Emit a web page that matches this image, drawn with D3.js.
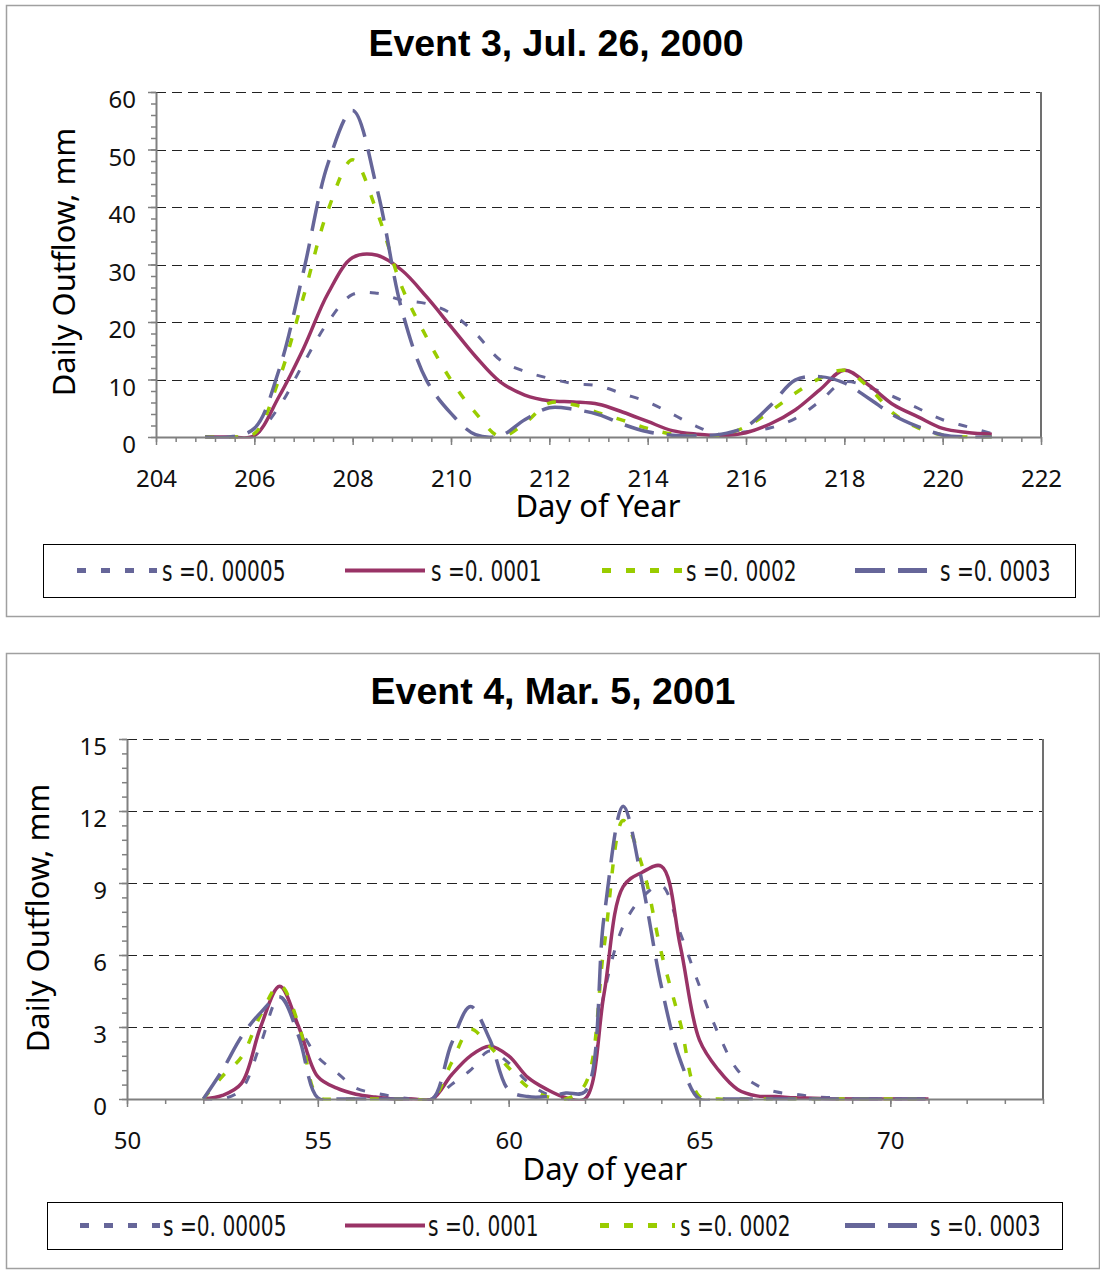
<!DOCTYPE html>
<html>
<head>
<meta charset="utf-8">
<script src="https://cdn.jsdelivr.net/npm/d3@7"></script>
<style>
body { margin: 0; background: #fff; }
svg { display: block; }
</style>
</head>
<body>
<div id="chart"></div>
<script>
// series labels and look
const names = ["s =0. 00005", "s =0. 0001", "s =0. 0002", "s =0. 0003"];

// Event 3 (Jul. 26, 2000)
const days3 = [205, 205.5, 206, 206.5, 207, 207.5, 208, 208.5, 209, 209.5, 210, 210.5, 211, 211.5, 212, 212.5,
  213, 213.5, 214, 214.5, 215, 215.5, 216, 216.5, 217, 217.5, 218, 218.5, 219, 219.5, 220, 220.5, 221];
const e3s00005 = [0, 0, 0.35, 5.2, 12.8, 20, 24.8, 25, 23.8, 23.2, 21.5, 18, 13.4, 11.4, 10.2, 9.3,
  8.9, 7.5, 6.1, 4, 1.8, 0.4, 0.9, 1.6, 3.2, 6.2, 9.6, 8.6, 7, 5, 3, 1.8, 0.6];
const e3s0001 = [0, 0, 0.2, 7, 15.4, 25, 31.2, 31.6, 29, 24.4, 19.2, 14, 9.6, 7.3, 6.3, 6.1,
  5.7, 4.3, 2.7, 1.1, 0.5, 0.25, 0.75, 2.3, 4.7, 8.2, 11.6, 9, 5.6, 3.5, 1.5, 0.8, 0.5];
const e3s0002 = [0, 0, 0.6, 10, 24.4, 39.5, 48.2, 39, 26.1, 17.4, 9.9, 4.2, 0.1, 2.4, 5.9, 5.6,
  4.2, 2.9, 1.5, 0.5, 0.2, 0.3, 1.8, 4.5, 7.6, 10.2, 11.6, 8.6, 4.1, 1.6, 0.35, 0, 0];
const e3s0003 = [0, 0, 1.5, 11.6, 28.8, 47.6, 56.8, 43, 22.1, 9.9, 4.1, 0.4, 0.2, 3, 5.1, 4.8,
  3.9, 2.2, 0.9, 0.3, 0.2, 0.5, 1.8, 5.5, 9.9, 10.5, 9.4, 6.7, 3.8, 1.8, 0.35, 0, 0];
const xTicks3 = [204, 206, 208, 210, 212, 214, 216, 218, 220, 222];
const yTicks3 = [0, 10, 20, 30, 40, 50, 60];

// Event 4 (Mar. 5, 2001)
const days4 = [52, 52.5, 53, 53.5, 54, 54.5, 55, 55.5, 56, 56.5, 57, 57.5, 58, 58.5, 59, 59.5, 60, 60.5, 61, 61.5,
  62, 62.5, 63, 63.5, 64, 64.5, 65, 65.5, 66, 66.5, 67, 67.5, 68, 68.5, 69, 69.5, 70, 70.5, 71];
const e4s00005 = [0, 0, 0.4, 2.3, 4.26, 3.0, 1.75, 1.1, 0.45, 0.25, 0.1, 0, 0, 0.6, 1.2, 2.0, 1.5, 0.7, 0.2, 0,
  0, 4.4, 7.2, 8.4, 8.9, 6.9, 4.7, 2.7, 1.2, 0.58, 0.3, 0.2, 0.1, 0.05, 0, 0, 0, 0, 0];
const e4s0001 = [0, 0.15, 0.65, 3.0, 4.7, 3.0, 0.93, 0.45, 0.2, 0.08, 0, 0, 0, 1.0, 1.8, 2.2, 1.8, 0.9, 0.4, 0.05,
  0, 4.4, 8.85, 9.45, 9.7, 6.35, 2.45, 1.2, 0.4, 0.13, 0.1, 0.05, 0.03, 0, 0, 0, 0, 0, 0];
const e4s0002 = [0, 0.95, 1.75, 3.5, 4.75, 3.1, 0.1, 0, 0, 0, 0, 0, 0, 1.5, 2.9, 2.2, 1.3, 0.5, 0.1, 0,
  0.6, 6.35, 11.6, 9.7, 6.1, 3.15, 0.1, 0, 0, 0, 0, 0, 0, 0, 0, 0, 0, 0, 0];
const e4s0003 = [0, 1.2, 2.6, 3.6, 4.26, 2.6, 0.05, 0, 0, 0, 0, 0, 0, 2.3, 3.85, 2.5, 0.375, 0.1, 0.1, 0.25,
  0.3, 7.6, 12.2, 9, 4.7, 1.6, 0, 0, 0, 0, 0, 0, 0, 0, 0, 0, 0, 0, 0];
const xTicks4 = [50, 55, 60, 65, 70];
const yTicks4 = [0, 3, 6, 9, 12, 15];

const colors = ["#666699", "#993366", "#99cc00", "#666699"];
const dashes = ["9,15", null, "9,15", "30,13"];
const widths = [3, 3.5, 3.5, 3.5];

const FONT = "'Noto Sans', 'Open Sans', sans-serif";
const TITLE_FONT = "'Liberation Sans', Arial, sans-serif";
const LEGEND_FONT = "'DejaVu Sans Condensed', 'DejaVu Sans', sans-serif";

const svg = d3.select('#chart')
  .append('svg')
    .attr('width', 1100)
    .attr('height', 1271);

function drawChart(c) {
  let g = svg.append('g');
  let p = c.plot;

  g.append('rect')
    .attr('x', c.box[0] + 0.5).attr('y', c.box[1] + 0.5)
    .attr('width', c.box[2]).attr('height', c.box[3])
    .attr('fill', '#fff').attr('stroke', '#a0a0a0').attr('stroke-width', 1.5);

  let x = d3.scaleLinear().domain(c.xDomain).range([p.left, p.right]);
  let y = d3.scaleLinear().domain(c.yDomain).range([p.bottom, p.top]);

  // dashed gridlines
  g.append('g')
    .attr('transform', `translate(${p.left},0)`)
    .call(d3.axisLeft(y).tickValues(c.yTicks.slice(1)).tickSize(-(p.right - p.left)).tickFormat(''))
    .call(a => a.select('.domain').remove())
    .selectAll('line')
      .attr('stroke', '#222').attr('stroke-dasharray', '10,6')
      .attr('shape-rendering', 'crispEdges');

  // right border of plot area
  g.append('line')
    .attr('x1', p.right).attr('x2', p.right)
    .attr('y1', p.top).attr('y2', p.bottom)
    .attr('stroke', '#707070').attr('stroke-width', 2);

  let clipId = 'clip' + c.id;
  svg.append('clipPath').attr('id', clipId)
    .append('rect')
      .attr('x', p.left).attr('y', p.top - 10)
      .attr('width', p.right - p.left).attr('height', p.bottom - p.top + 11.5);

  // excel style smoothed lines
  let line = d3.line()
    .x(d => x(d[0]))
    .y(d => y(d[1]))
    .curve(d3.curveCatmullRom.alpha(0.5));

  let lines = g.append('g').attr('clip-path', `url(#${clipId})`);
  c.series.forEach(function(vals, i) {
    let pts = c.days.map((d, k) => [d, vals[k]]);
    lines.append('path')
      .attr('d', line(pts))
      .attr('fill', 'none')
      .attr('stroke', colors[i])
      .attr('stroke-width', widths[i])
      .attr('stroke-dasharray', dashes[i])
      .attr('stroke-linejoin', 'round');
  });

  // axes: minor then major ticks
  g.append('g')
    .attr('transform', `translate(${p.left},0)`)
    .call(d3.axisLeft(y).tickValues(c.yMinor).tickSize(5).tickSizeOuter(0).tickFormat(''))
    .call(a => a.select('.domain').remove())
    .selectAll('line').attr('stroke', '#808080').attr('stroke-width', 1.5);

  let ya = g.append('g')
    .attr('transform', `translate(${p.left},0)`)
    .call(d3.axisLeft(y).tickValues(c.yTicks).tickSize(8).tickSizeOuter(0).tickPadding(c.yPad));
  ya.select('.domain').attr('stroke', '#808080').attr('stroke-width', 2);
  ya.selectAll('line').attr('stroke', '#808080').attr('stroke-width', 1.5);
  ya.selectAll('text')
    .attr('dy', '0.32em').attr('y', 8)
    .attr('font-family', FONT).attr('font-size', 24).attr('fill', '#111');

  g.append('g')
    .attr('transform', `translate(0,${p.bottom})`)
    .call(d3.axisBottom(x).tickValues(c.xMinor).tickSize(5).tickSizeOuter(0).tickFormat(''))
    .call(a => a.select('.domain').remove())
    .selectAll('line').attr('stroke', '#808080').attr('stroke-width', 1.5);

  let xa = g.append('g')
    .attr('transform', `translate(0,${p.bottom})`)
    .call(d3.axisBottom(x).tickValues(c.xTicks).tickSize(8).tickSizeOuter(0).tickPadding(c.xPad));
  xa.select('.domain').attr('stroke', '#808080').attr('stroke-width', 2);
  xa.selectAll('line').attr('stroke', '#808080').attr('stroke-width', 1.5);
  xa.selectAll('text').attr('font-family', FONT).attr('font-size', 24).attr('fill', '#111');

  // texts
  g.append('text')
    .attr('x', c.title[0]).attr('y', c.title[1])
    .attr('text-anchor', 'middle')
    .attr('font-family', TITLE_FONT).attr('font-weight', 'bold').attr('font-size', 37.5)
    .text(c.titleText);

  g.append('text')
    .attr('transform', `translate(${c.yLabel[0]},${c.yLabel[1]}) rotate(-90)`)
    .attr('text-anchor', 'middle').attr('dominant-baseline', 'central')
    .attr('font-family', FONT).attr('font-size', 31)
    .text('Daily Outflow, mm');

  g.append('text')
    .attr('x', c.xLabel[0]).attr('y', c.xLabel[1])
    .attr('text-anchor', 'middle')
    .attr('font-family', FONT).attr('font-size', 31)
    .text(c.xLabelText);

  // legend
  let L = c.legend;
  g.append('rect')
    .attr('x', L.x + 0.5).attr('y', L.y + 0.5)
    .attr('width', L.w).attr('height', L.h)
    .attr('fill', '#fff').attr('stroke', '#000').attr('stroke-width', 1);
  let ly = L.y + L.h / 2;
  names.forEach(function(n, i) {
    g.append('line')
      .attr('x1', L.sx[i]).attr('x2', L.sx[i] + L.sw[i])
      .attr('y1', ly).attr('y2', ly)
      .attr('stroke', colors[i]).attr('stroke-width', i == 1 ? 4 : 5)
      .attr('stroke-dasharray', dashes[i]);
    g.append('text')
      .attr('transform', `translate(${L.tx[i]},${ly + 10}) scale(0.8,1)`)
      .attr('font-family', LEGEND_FONT).attr('font-size', 28).attr('fill', '#111')
      .text(n);
  });
}

drawChart({
  id: 3,
  box: [6, 5, 1093, 611],
  plot: { left: 156, top: 92, right: 1041, bottom: 437 },
  xDomain: [204, 222], yDomain: [0, 60],
  xTicks: xTicks3, yTicks: yTicks3,
  xMinor: d3.range(204, 222.01, 0.4), yMinor: d3.range(0, 60.01, 2),
  xPad: 25, yPad: 12,
  days: days3, series: [e3s00005, e3s0001, e3s0002, e3s0003],
  title: [556, 56], titleText: 'Event 3, Jul. 26, 2000',
  yLabel: [63, 262], xLabel: [598, 517], xLabelText: 'Day of Year',
  legend: { x: 43, y: 544, w: 1032, h: 53, sx: [77, 345, 602, 855], sw: [80, 80, 80, 72], tx: [162, 431, 686, 940] }
});

drawChart({
  id: 4,
  box: [6, 653, 1093, 615],
  plot: { left: 127, top: 739, right: 1043, bottom: 1099 },
  xDomain: [50, 74], yDomain: [0, 15],
  xTicks: xTicks4, yTicks: yTicks4,
  xMinor: d3.range(50, 74.01, 1), yMinor: d3.range(0, 15.01, 0.6),
  xPad: 25, yPad: 12,
  days: days4, series: [e4s00005, e4s0001, e4s0002, e4s0003],
  title: [553, 704], titleText: 'Event 4, Mar. 5, 2001',
  yLabel: [37, 918], xLabel: [605, 1180], xLabelText: 'Day of year',
  legend: { x: 47, y: 1202, w: 1015, h: 47, sx: [80, 345, 600, 845], sw: [80, 80, 75, 72], tx: [163, 428, 680, 930] }
});
</script>
</body>
</html>
